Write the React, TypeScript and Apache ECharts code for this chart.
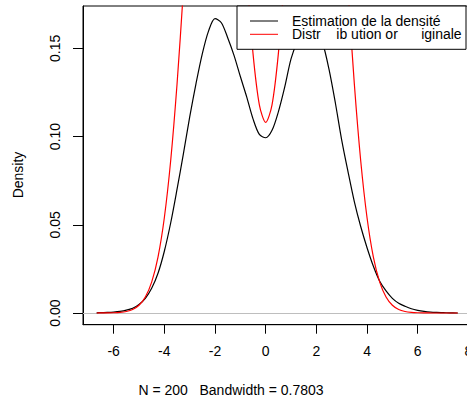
import { useEffect, useRef } from 'react';
import * as echarts from 'echarts';

const xValues = [
  -6.67, -6.5, -6.25, -6, -5.75, -5.5, -5.25, -5, -4.75, -4.5, -4.25, -4, -3.75, -3.5, -3.25, -3,
  -2.75, -2.5, -2.25, -2, -1.75, -1.5, -1.25, -1, -0.75, -0.5, -0.25, 0, 0.25, 0.5, 0.75, 1,
  1.25, 1.5, 1.75, 2, 2.25, 2.5, 2.75, 3, 3.25, 3.5, 3.75, 4, 4.25, 4.5, 4.75, 5,
  5.25, 5.5, 5.75, 6, 6.25, 6.5, 6.75, 7, 7.25, 7.58,
];

const densityEstimate = [
  0.0001, 0.0002, 0.0003, 0.0005, 0.0009, 0.0016, 0.0027, 0.0048, 0.0083, 0.014, 0.0225, 0.035, 0.051, 0.07, 0.09, 0.111,
  0.13, 0.147, 0.16, 0.1668, 0.1645, 0.156, 0.146, 0.134, 0.1225, 0.11, 0.1012, 0.0993, 0.1035, 0.114, 0.128, 0.144,
  0.154, 0.161, 0.1635, 0.161, 0.153, 0.138, 0.119, 0.098, 0.08, 0.063, 0.049, 0.037, 0.0265, 0.018, 0.0125, 0.0083,
  0.0055, 0.0038, 0.0024, 0.0015, 0.0009, 0.0005, 0.0003, 0.0002, 0.0001, 0.0,
];

const originalDistribution = [
  0.00001, 0.00002, 0.00005, 0.00013, 0.00035, 0.00087, 0.002, 0.0044, 0.0091, 0.0175, 0.0317, 0.054, 0.0863, 0.1295, 0.1826, 0.242,
  0.3011, 0.3521, 0.3867, 0.399, 0.387, 0.353, 0.3031, 0.2464, 0.1917, 0.147, 0.118, 0.108, 0.118, 0.147, 0.1917, 0.2464,
  0.3031, 0.353, 0.387, 0.399, 0.3867, 0.3521, 0.3011, 0.242, 0.1826, 0.1295, 0.0863, 0.054, 0.0317, 0.0175, 0.0091, 0.0044,
  0.002, 0.00087, 0.00035, 0.00013, 0.00005, 0.00002, 0.00001, 0.0, 0.0, 0.0,
];

const xTicks = [-6, -4, -2, 0, 2, 4, 6, 8];
const yTicks = [0, 0.05, 0.1, 0.15];
const seriesNames = ['Estimation de la densité', 'Distr    ib ution or      iginale'];
const xTitle = 'N = 200   Bandwidth = 0.7803';
const yTitle = 'Density';

const FONT = '"Liberation Sans", Arial, Helvetica, sans-serif';

export default function App() {
  const ref = useRef<HTMLDivElement>(null);

  useEffect(() => {
    if (!ref.current) return;
    const chart = echarts.init(ref.current, null, { renderer: 'svg' });

    const blackData = xValues.map((x, i) => [x, densityEstimate[i]]);
    const redData = xValues.map((x, i) => [x, originalDistribution[i]]);

    chart.setOption({
      animation: false,
      grid: {
        left: 83,
        top: 6,
        width: 389.2,
        height: 318.7,
        show: true,
        borderColor: '#000',
        borderWidth: 1,
        backgroundColor: 'transparent',
        containLabel: false,
      },
      xAxis: {
        type: 'value',
        min: -7.21,
        max: 8.15,
        splitLine: { show: false },
        axisLine: { show: true, onZero: false, lineStyle: { color: '#000', width: 1 } },
        axisTick: { show: true, length: 9, customValues: xTicks, lineStyle: { color: '#000', width: 1 } },
        axisLabel: {
          customValues: xTicks,
          margin: 19,
          color: '#000',
          fontSize: 14,
          fontFamily: FONT,
          formatter: (v: number) => String(v),
        },
      },
      yAxis: {
        type: 'value',
        min: -0.00663,
        max: 0.17397,
        splitLine: { show: false },
        axisLine: { show: true, onZero: false, lineStyle: { color: '#000', width: 1 } },
        axisTick: { show: true, length: 10, customValues: yTicks, lineStyle: { color: '#000', width: 1 } },
        axisLabel: {
          customValues: yTicks,
          rotate: 90,
          margin: 21,
          color: '#000',
          fontSize: 14,
          fontFamily: FONT,
          formatter: (v: number) => v.toFixed(2),
        },
      },
      series: [
        {
          name: seriesNames[0],
          type: 'line',
          data: blackData,
          showSymbol: false,
          symbol: 'none',
          smooth: 0.3,
          clip: true,
          lineStyle: { color: '#000', width: 1.2 },
          z: 3,
          markLine: {
            silent: true,
            symbol: ['none', 'none'],
            label: { show: false },
            lineStyle: { color: '#bebebe', type: 'solid', width: 1 },
            data: [{ yAxis: 0 }],
            z: 1,
          },
        },
        {
          name: seriesNames[1],
          type: 'line',
          data: redData,
          showSymbol: false,
          symbol: 'none',
          smooth: 0.3,
          clip: true,
          lineStyle: { color: '#ff0000', width: 1.2 },
          z: 4,
        },
      ],
      graphic: [
        {
          type: 'text',
          x: 18,
          y: 175,
          rotation: Math.PI / 2,
          style: {
            text: yTitle,
            fill: '#000',
            font: `14px ${FONT}`,
            align: 'center',
            verticalAlign: 'middle',
          },
        },
        {
          type: 'text',
          x: 231,
          y: 390,
          style: {
            text: xTitle,
            fill: '#000',
            font: `14px ${FONT}`,
            align: 'center',
            verticalAlign: 'middle',
          },
        },
        {
          type: 'rect',
          z: 100,
          shape: { x: 237, y: 6, width: 229, height: 43.3 },
          style: { fill: '#fff', stroke: '#000', lineWidth: 1 },
        },
        {
          type: 'line',
          z: 101,
          shape: { x1: 250, y1: 21, x2: 278, y2: 21 },
          style: { stroke: '#000', lineWidth: 1 },
        },
        {
          type: 'line',
          z: 101,
          shape: { x1: 250, y1: 34.3, x2: 278, y2: 34.3 },
          style: { stroke: '#ff0000', lineWidth: 1 },
        },
        {
          type: 'text',
          z: 101,
          x: 292,
          y: 21,
          style: {
            text: seriesNames[0],
            fill: '#000',
            font: `14px ${FONT}`,
            lineHeight: 13,
            align: 'left',
            verticalAlign: 'middle',
          },
        },
        {
          type: 'text',
          z: 101,
          x: 292,
          y: 34.3,
          style: {
            text: seriesNames[1],
            fill: '#000',
            font: `14px ${FONT}`,
            lineHeight: 13,
            align: 'left',
            verticalAlign: 'middle',
          },
        },
      ],
    });

    return () => {
      chart.dispose();
    };
  }, []);

  return (
    <div
      style={{
        position: 'fixed',
        left: 0,
        top: 0,
        width: 467,
        height: 400,
        overflow: 'hidden',
        background: '#fff',
      }}
    >
      <div ref={ref} style={{ width: 480, height: 400 }} />
    </div>
  );
}
